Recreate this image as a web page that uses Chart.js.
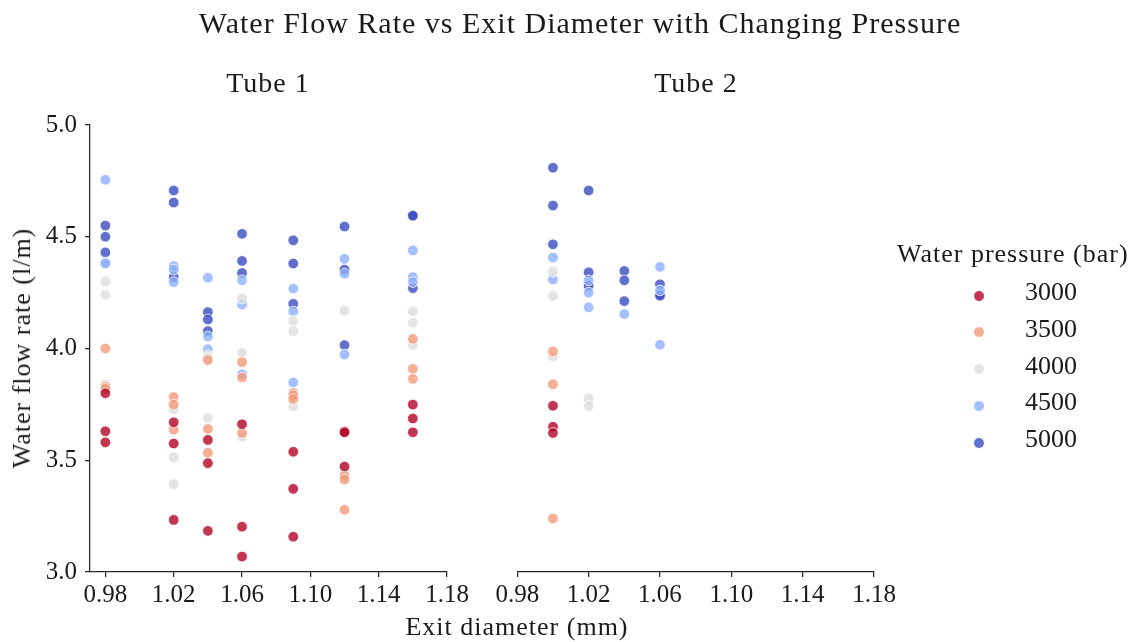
<!DOCTYPE html>
<html>
<head>
<meta charset="utf-8">
<title>Water Flow Rate vs Exit Diameter</title>
<script src="https://cdn.jsdelivr.net/npm/chart.js@4"></script>
<style>
  body { margin: 0; background: #fff; }
  #wrap { position: relative; width: 1138px; height: 642px; font-family: "Liberation Serif", serif; color: #1a1a1a; }
  #wrap canvas { position: absolute; left: 0; top: 0; }
  .lbl { position: absolute; white-space: nowrap; transform: translate(-50%, -50%); letter-spacing: 1px; }
  #title { left: 580px; top: 23px; font-size: 30px; }
  .panel { top: 83px; font-size: 28px; }
  #ylab { left: 22px; top: 348px; font-size: 26px; transform: translate(-50%, -50%) rotate(-90deg); }
  #xlab { left: 517px; top: 627px; font-size: 26px; }
  #legend { position: absolute; left: 897px; top: 239px; font-size: 26px; }
  #legend .head { white-space: nowrap; letter-spacing: 1px; height: 38px; }
  #legend .row { position: relative; height: 36.8px; }
  #legend .dot { position: absolute; left: 76px; top: 12.5px; width: 10px; height: 10px; border-radius: 50%; border: 0.75px solid #fff; }
  #legend .val { position: absolute; left: 128px; top: 0; }
</style>
</head>
<body>
<div id="wrap">
  <canvas id="tube1" width="1138" height="642"></canvas>
  <canvas id="tube2" width="1138" height="642"></canvas>
  <div class="lbl" id="title">Water Flow Rate vs Exit Diameter with Changing Pressure</div>
  <div class="lbl panel" style="left:268px">Tube 1</div>
  <div class="lbl panel" style="left:696px">Tube 2</div>
  <div class="lbl" id="ylab">Water flow rate (l/m)</div>
  <div class="lbl" id="xlab">Exit diameter (mm)</div>
  <div id="legend"><div class="head">Water pressure (bar)</div></div>
</div>
<script>
const pressures = [3000, 3500, 4000, 4500, 5000];
const pressureColors = ['180,4,38', '244,154,123', '221,221,221', '141,176,254', '59,76,192'];

const xTicks = [0.98, 1.02, 1.06, 1.10, 1.14, 1.18];
const yTicks = [3.0, 3.5, 4.0, 4.5, 5.0];

// Tube 1: flow rate (l/m) readings, one list per exit diameter
const tube1Diameters = [0.98, 1.02, 1.04, 1.06, 1.09, 1.12, 1.16];
const tube1Flow3000 = [[3.80, 3.63, 3.58], [3.67, 3.575, 3.233], [3.591, 3.487, 3.184], [3.661, 3.203, 3.069], [3.538, 3.372, 3.158], [3.629, 3.625, 3.472], [3.749, 3.687, 3.625]];
const tube1Flow3500 = [[4.00, 3.83, 3.82], [3.783, 3.749, 3.637], [3.948, 3.640, 3.534], [3.939, 3.870, 3.622], [3.801, 3.790, 3.774], [3.430, 3.414, 3.278], [4.043, 3.909, 3.864]];
const tube1Flow4000 = [[4.30, 4.24, 3.84], [3.728, 3.513, 3.393], [3.969, 3.960, 3.689], [4.223, 3.981, 3.605], [4.124, 4.078, 3.741], [4.170, 3.440, 3.438], [4.166, 4.115, 4.015]];
const tube1Flow4500 = [[4.755, 4.385, 4.380], [4.369, 4.353, 4.297], [4.317, 4.054, 3.997], [4.305, 4.197, 3.885], [4.268, 4.166, 3.848], [4.401, 4.335, 3.973], [4.439, 4.320, 4.297]];
const tube1Flow5000 = [[4.55, 4.50, 4.43], [4.707, 4.653, 4.320], [4.163, 4.130, 4.078], [4.513, 4.392, 4.338], [4.484, 4.380, 4.200], [4.546, 4.353, 4.015], [4.596, 4.594, 4.270]];

// Tube 2
const tube2Diameters = [1.00, 1.02, 1.04, 1.06];
const tube2Flow3000 = [[3.744, 3.650, 3.622], [], [], []];
const tube2Flow3500 = [[3.987, 3.840, 3.239], [], [], []];
const tube2Flow4000 = [[4.344, 4.236, 3.964], [3.776, 3.743], [], []];
const tube2Flow4500 = [[4.407, 4.309], [4.305, 4.250, 4.184], [4.154], [4.365, 4.260, 4.017]];
const tube2Flow5000 = [[4.809, 4.640, 4.466], [4.707, 4.341, 4.281], [4.347, 4.305, 4.212], [4.287, 4.242, 4.236]];

const tube1Flows = [tube1Flow3000, tube1Flow3500, tube1Flow4000, tube1Flow4500, tube1Flow5000];
const tube2Flows = [tube2Flow3000, tube2Flow3500, tube2Flow4000, tube2Flow4500, tube2Flow5000];

const axisColor = '#262626';

function toPoints(diameters, flows) {
  const pts = [];
  diameters.forEach((d, i) => {
    flows[i].forEach(v => pts.push({ x: d, y: v }));
  });
  return pts;
}

function buildDatasets(diameters, flowSets) {
  return pressures.map((p, k) => ({
    label: String(p),
    data: toPoints(diameters, flowSets[k]),
    backgroundColor: `rgba(${pressureColors[k]},0.8)`,
    borderColor: '#ffffff',
    borderWidth: 0.75,
    pointRadius: 5.3,
    pointHoverRadius: 5.3
  }));
}

// yWidth = 0 hides the y axis (second panel shares the first one's axis)
function makeChart(id, diameters, flowSets, xMin, padLeft, padRight, yWidth) {
  return new Chart(document.getElementById(id), {
    type: 'scatter',
    data: { datasets: buildDatasets(diameters, flowSets) },
    options: {
      responsive: false,
      animation: false,
      events: [],
      layout: { padding: { left: padLeft, right: padRight, top: 125, bottom: 0 } },
      plugins: { legend: { display: false }, tooltip: { enabled: false } },
      scales: {
        x: {
          type: 'linear',
          min: xMin,
          max: 1.18,
          afterBuildTicks: scale => { scale.ticks = xTicks.map(v => ({ value: v })); },
          afterFit: scale => { scale.height = 70; },
          ticks: {
            callback: v => v.toFixed(2),
            color: '#1a1a1a',
            padding: 3,
            maxRotation: 0,
            autoSkip: false,
            font: { family: '"Liberation Serif", serif', size: 25 }
          },
          grid: { drawOnChartArea: false, drawTicks: true, tickLength: 5, color: axisColor, lineWidth: 1.25 },
          border: { display: true, color: axisColor, width: 1.25 }
        },
        y: {
          type: 'linear',
          display: yWidth > 0,
          min: 3,
          max: 5,
          afterBuildTicks: scale => { scale.ticks = yTicks.map(v => ({ value: v })); },
          afterFit: scale => { scale.width = yWidth; },
          ticks: {
            callback: v => v.toFixed(1),
            color: '#1a1a1a',
            padding: 8,
            font: { family: '"Liberation Serif", serif', size: 25 }
          },
          grid: { drawOnChartArea: false, drawTicks: true, tickLength: 5, color: axisColor, lineWidth: 1.25 },
          border: { display: true, color: axisColor, width: 1.25 }
        }
      }
    }
  });
}

makeChart('tube1', tube1Diameters, tube1Flows, 0.971, 0, 1138 - 447, 90);
makeChart('tube2', tube2Diameters, tube2Flows, 0.98, 517.3, 1138 - 874, 0);

// legend for pressure levels
const legend = document.getElementById('legend');
pressures.forEach((p, k) => {
  const row = document.createElement('div');
  row.className = 'row';
  row.innerHTML = `<span class="dot" style="background:rgba(${pressureColors[k]},0.8)"></span><span class="val">${p}</span>`;
  legend.appendChild(row);
});
</script>
</body>
</html>
